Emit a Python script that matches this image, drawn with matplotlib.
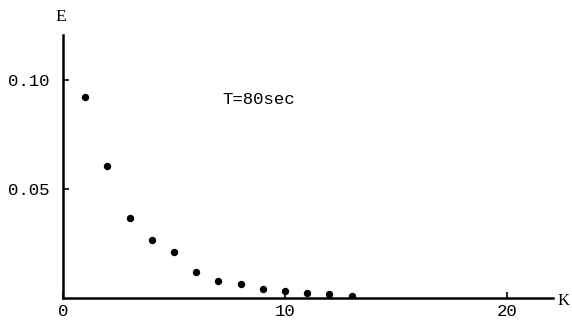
import matplotlib
matplotlib.use("Agg")
import matplotlib.pyplot as plt

# Energy spectrum E against wavenumber K
k_values = [1, 2, 3, 4, 5, 6, 7, 8, 9, 10, 11, 12, 13]
e_values = [0.0920, 0.0605, 0.0366, 0.0268, 0.0210, 0.0119, 0.0078,
            0.0066, 0.0041, 0.0031, 0.0022, 0.0020, 0.0009]
x_ticks = [0, 10, 20]
x_tick_labels = ["0", "10", "20"]
y_ticks = [0.05, 0.10]
y_tick_labels = ["0.05", "0.10"]

mono = "Liberation Mono"
serif = "Liberation Serif"

fig = plt.figure(figsize=(5.72, 3.22), dpi=100)
ax = fig.add_axes([0.110, 0.0745, 0.857, 0.8165])

ax.plot(k_values, e_values, linestyle="none", marker="o",
        markersize=4.3, color="black")

ax.set_xlim(0, 22.07)
ax.set_ylim(0, 0.1206)

for side in ("top", "right"):
    ax.spines[side].set_visible(False)
for side in ("left", "bottom"):
    ax.spines[side].set_linewidth(1.8)

ax.set_xticks(x_ticks)
ax.set_xticklabels(x_tick_labels, fontfamily=mono, fontsize=12.5)
ax.set_yticks(y_ticks)
ax.set_yticklabels(y_tick_labels, fontfamily=mono, fontsize=12.5)
ax.tick_params(direction="in", length=4, width=1.2)
ax.tick_params(axis="x", pad=4)
ax.tick_params(axis="y", pad=10)

ax.text(-0.004, 1.068, "E", transform=ax.transAxes, ha="center", va="center",
        fontfamily=serif, fontsize=12.5)
ax.text(1.022, -0.01, "K", transform=ax.transAxes, ha="center", va="center",
        fontfamily=serif, fontsize=12)
ax.text(7.2, 0.0912, "T=80sec", ha="left", va="center",
        fontfamily=mono, fontsize=12.5)

fig.savefig("out.png", dpi=100)
